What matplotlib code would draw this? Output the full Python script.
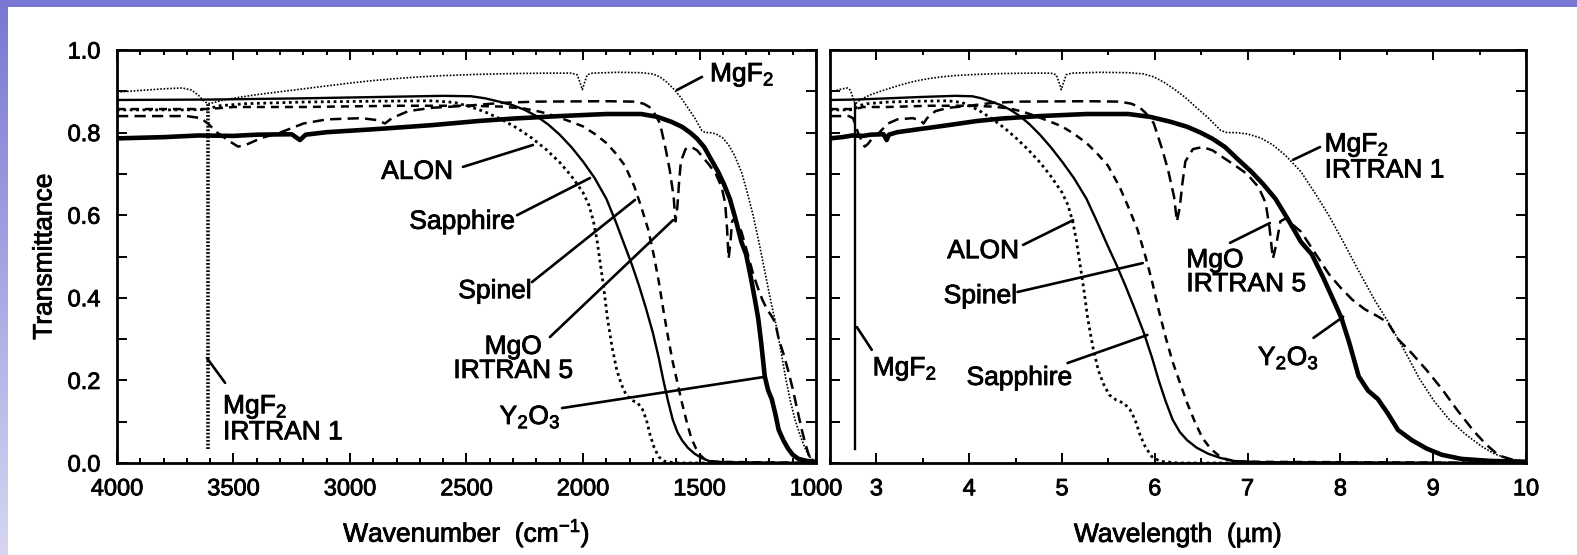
import numpy as np
import matplotlib
matplotlib.use('Agg')
import matplotlib.pyplot as plt
import matplotlib.patheffects as pe
from matplotlib.patches import Rectangle
from matplotlib.ticker import MultipleLocator, FormatStrFormatter

plt.rcParams['font.family'] = ['Liberation Sans', 'DejaVu Sans']
plt.rcParams['mathtext.fontset'] = 'custom'
plt.rcParams['mathtext.rm'] = 'Liberation Sans'
plt.rcParams['mathtext.default'] = 'regular'

# transmittance curves: (wavenumber cm-1, transmittance)
MGF2 = [(4000, 0.898), (3900, 0.902), (3800, 0.906), (3720, 0.908), (3680, 0.903),
        (3650, 0.89), (3630, 0.878), (3610, 0.87), (3590, 0.872), (3550, 0.878),
        (3480, 0.885), (3400, 0.892), (3300, 0.899), (3200, 0.906), (3100, 0.913),
        (3000, 0.92), (2900, 0.926), (2800, 0.931), (2700, 0.935), (2600, 0.938),
        (2450, 0.941), (2300, 0.943), (2150, 0.944), (2050, 0.944), (2025, 0.94),
        (2012, 0.92), (2003, 0.904), (1994, 0.92), (1982, 0.94), (1960, 0.944),
        (1850, 0.946), (1750, 0.945), (1700, 0.942), (1670, 0.935), (1640, 0.922),
        (1610, 0.905), (1580, 0.885), (1550, 0.86), (1520, 0.835), (1500, 0.815),
        (1490, 0.805), (1475, 0.80), (1455, 0.80), (1430, 0.797), (1400, 0.787),
        (1375, 0.77), (1350, 0.745), (1320, 0.705), (1295, 0.655), (1270, 0.60),
        (1245, 0.535), (1220, 0.465), (1195, 0.395), (1170, 0.33), (1150, 0.27),
        (1130, 0.205), (1110, 0.15), (1090, 0.105), (1070, 0.07), (1050, 0.04),
        (1035, 0.022), (1020, 0.01), (1000, 0.005)]

ALON = [(4000, 0.855), (3700, 0.855), (3620, 0.856), (3560, 0.865), (3450, 0.87),
        (3200, 0.874), (2900, 0.876), (2650, 0.877), (2550, 0.873), (2480, 0.862),
        (2420, 0.85), (2350, 0.832), (2280, 0.81), (2220, 0.787), (2160, 0.76),
        (2100, 0.728), (2050, 0.695), (2000, 0.655), (1975, 0.625), (1955, 0.585),
        (1940, 0.54), (1925, 0.48), (1910, 0.42), (1895, 0.35), (1875, 0.28),
        (1855, 0.225), (1835, 0.19), (1815, 0.165), (1790, 0.152), (1765, 0.145),
        (1745, 0.13), (1728, 0.105), (1712, 0.068), (1695, 0.038), (1675, 0.015),
        (1650, 0.004), (1600, 0.0), (1000, 0.0)]

SAPPHIRE = [(4000, 0.879), (3600, 0.88), (3200, 0.883), (2900, 0.886), (2600, 0.889),
            (2480, 0.888), (2420, 0.883), (2360, 0.875), (2300, 0.866), (2250, 0.855),
            (2200, 0.84), (2150, 0.82), (2100, 0.795), (2050, 0.765), (2000, 0.73),
            (1950, 0.69), (1900, 0.64), (1860, 0.585), (1820, 0.525), (1790, 0.48),
            (1760, 0.43), (1730, 0.375), (1700, 0.315), (1675, 0.255), (1655, 0.2),
            (1635, 0.15), (1615, 0.105), (1595, 0.075), (1575, 0.055), (1550, 0.037),
            (1520, 0.022), (1490, 0.012), (1460, 0.005), (1400, 0.002), (1000, 0.0)]

SPINEL = [(4000, 0.857), (3700, 0.857), (3610, 0.857), (3500, 0.862), (3200, 0.862),
          (2800, 0.865), (2500, 0.865), (2350, 0.863), (2250, 0.858), (2180, 0.85),
          (2120, 0.84), (2050, 0.826), (2000, 0.815), (1950, 0.797), (1900, 0.775),
          (1860, 0.75), (1820, 0.72), (1780, 0.67), (1750, 0.62), (1720, 0.565),
          (1695, 0.5), (1675, 0.44), (1655, 0.37), (1635, 0.305), (1615, 0.245),
          (1595, 0.195), (1575, 0.145), (1555, 0.1), (1535, 0.06), (1515, 0.035),
          (1495, 0.018), (1475, 0.008), (1440, 0.003), (1000, 0.0)]

MGO = [(4000, 0.84), (3700, 0.84), (3640, 0.835), (3610, 0.822), (3570, 0.80),
       (3520, 0.78), (3480, 0.766), (3440, 0.772), (3380, 0.787), (3300, 0.80),
       (3200, 0.822), (3100, 0.832), (2950, 0.835), (2880, 0.83), (2850, 0.822),
       (2820, 0.835), (2750, 0.852), (2650, 0.86), (2500, 0.865), (2350, 0.872),
       (2200, 0.875), (1900, 0.876), (1780, 0.875), (1740, 0.87), (1715, 0.862),
       (1695, 0.848), (1670, 0.823), (1645, 0.76), (1628, 0.71), (1611, 0.645),
       (1603, 0.585), (1595, 0.62), (1588, 0.677), (1580, 0.73), (1560, 0.76),
       (1535, 0.765), (1510, 0.757), (1485, 0.74), (1460, 0.723), (1430, 0.70),
       (1405, 0.668), (1390, 0.63), (1382, 0.57), (1375, 0.495), (1368, 0.53),
       (1360, 0.585), (1350, 0.592), (1320, 0.56), (1295, 0.51), (1270, 0.458),
       (1250, 0.425), (1230, 0.395), (1210, 0.372), (1190, 0.355), (1175, 0.34),
       (1160, 0.30), (1140, 0.265), (1120, 0.225), (1100, 0.18), (1080, 0.128),
       (1060, 0.078), (1045, 0.045), (1030, 0.018), (1010, 0.005), (1000, 0.003)]

Y2O3 = [(4000, 0.786), (3800, 0.789), (3650, 0.793), (3500, 0.792), (3400, 0.795),
        (3250, 0.796), (3215, 0.782), (3190, 0.795), (3100, 0.801), (2900, 0.808),
        (2650, 0.818), (2450, 0.828), (2300, 0.834), (2100, 0.84), (1900, 0.845),
        (1750, 0.845), (1680, 0.838), (1620, 0.826), (1575, 0.814), (1540, 0.80),
        (1510, 0.785), (1480, 0.765), (1450, 0.735), (1420, 0.705), (1395, 0.675),
        (1370, 0.64), (1345, 0.59), (1320, 0.535), (1300, 0.505), (1280, 0.45),
        (1262, 0.395), (1248, 0.35), (1235, 0.29), (1220, 0.21), (1205, 0.175),
        (1190, 0.155), (1175, 0.12), (1160, 0.08), (1140, 0.055), (1120, 0.035),
        (1100, 0.02), (1075, 0.01), (1040, 0.005), (1000, 0.003)]

# MgF2 / IRTRAN 1 cut-off edge (vertical drop)
MGF2_EDGE = [(3610, 0.035), (3610, 0.87)]

curves = [
    (MGF2, dict(lw=1.2, ls=(0, (1, 1)))),
    (ALON, dict(lw=2.0, ls=(0, (1, 1.3)))),
    (SAPPHIRE, dict(lw=1.7, ls='-')),
    (SPINEL, dict(lw=1.8, ls=(0, (3.2, 2.4)))),
    (MGO, dict(lw=1.8, ls=(0, (4.5, 2.5)))),
    (Y2O3, dict(lw=3.3, ls='-')),
]

# label text, text pos, ha, leader start, leader end
left_labels = [
    ('MgF$_2$', (1455, 0.94), 'left', (1489, 0.935), (1597, 0.903)),
    ('ALON', (2712, 0.705), 'center', (2515, 0.717), (2215, 0.77)),
    ('Sapphire', (2519, 0.584), 'center', (2283, 0.60), (1970, 0.69)),
    ('Spinel', (2378, 0.416), 'center', (2219, 0.438), (1777, 0.637)),
    ('MgO\nIRTRAN 5', (2300, 0.252), 'center', (2142, 0.305), (1614, 0.588)),
    ('Y$_2$O$_3$', (2227, 0.111), 'center', (2090, 0.133), (1227, 0.208)),
    ('MgF$_2$\nIRTRAN 1', (3545, 0.107), 'left', (3536, 0.194), (3614, 0.254)),
]
right_labels = [
    ('MgF$_2$\nIRTRAN 1', (7.83, 0.741), 'left', (7.78, 0.765), (7.49, 0.734)),
    ('MgO\nIRTRAN 5', (6.34, 0.462), 'left', (6.81, 0.533), (7.24, 0.581)),
    ('Y$_2$O$_3$', (7.44, 0.254), 'center', (7.71, 0.303), (8.03, 0.354)),
    ('ALON', (4.15, 0.513), 'center', (4.58, 0.528), (5.12, 0.588)),
    ('Spinel', (4.12, 0.404), 'center', (4.52, 0.414), (5.87, 0.484)),
    ('Sapphire', (4.54, 0.206), 'center', (5.06, 0.242), (5.92, 0.31)),
    ('MgF$_2$', (2.96, 0.228), 'left', (2.95, 0.274), (2.79, 0.329)),
]

heavy = [pe.withStroke(linewidth=0.6, foreground='k')]


def split(pts):
    nu = np.array([p[0] for p in pts], dtype=float)
    t = np.array([p[1] for p in pts], dtype=float)
    return nu, t


def draw(ax, to_x, edge_style, labels):
    for pts, st in curves:
        nu, t = split(pts)
        ax.plot(to_x(nu), t, color='k', **st)
    nu, t = split(MGF2_EDGE)
    ax.plot(to_x(nu), t, color='k', **edge_style)
    for text, pos, ha, start, end in labels:
        ax.text(pos[0], pos[1], text, ha=ha, va='center', fontsize=19,
                multialignment=ha, linespacing=1.0, path_effects=heavy)
        ax.annotate('', xy=end, xytext=start,
                    arrowprops=dict(arrowstyle='-', lw=1.9, color='k',
                                    shrinkA=0, shrinkB=0))


def style(ax):
    ax.set_ylim(0, 1)
    ax.yaxis.set_major_locator(MultipleLocator(0.2))
    ax.yaxis.set_minor_locator(MultipleLocator(0.1))
    ax.yaxis.set_major_formatter(FormatStrFormatter('%.1f'))
    ax.tick_params(which='both', direction='in', top=True, right=True,
                   width=1.4, labelsize=17)
    ax.tick_params(axis='x', which='major', length=7, pad=11)
    ax.tick_params(axis='x', which='minor', length=3.6)
    ax.tick_params(axis='y', which='both', length=7, pad=12)
    for sp in ax.spines.values():
        sp.set_linewidth(2)
    for lab in ax.get_xticklabels() + ax.get_yticklabels():
        lab.set_path_effects(heavy)


def xlabel(ax, text):
    ax.set_xlabel(text, fontsize=19, path_effects=heavy)
    ax.xaxis.label.set_va('baseline')
    ax.xaxis.set_label_coords(0.5, -0.191)


fig = plt.figure(figsize=(15.77, 5.55), dpi=100)

# slide frame: top bar and left gradient bar
grad = np.linspace(0, 1, 200)[:, None, None]
top_c = np.array([0.47, 0.47, 0.83])
bot_c = np.array([0.84, 0.84, 0.95])
band = fig.add_axes([0, 0, 8 / 1577, 1])
band.imshow(top_c * (1 - grad) + bot_c * grad, aspect='auto', extent=[0, 1, 0, 1])
band.axis('off')
fig.patches.append(Rectangle((0, 1 - 7 / 555), 1, 7 / 555, transform=fig.transFigure,
                             facecolor=top_c, edgecolor='none'))

ax1 = fig.add_axes([117 / 1577, 92 / 555, 699 / 1577, 413 / 555])
ax2 = fig.add_axes([830 / 1577, 92 / 555, 696 / 1577, 413 / 555])

draw(ax1, lambda nu: nu, dict(lw=2.6, ls=(0, (0.5, 0.5))), left_labels)
ax1.set_xlim(4000, 1000)
ax1.xaxis.set_major_locator(MultipleLocator(500))
ax1.xaxis.set_minor_locator(MultipleLocator(100))
style(ax1)
xlabel(ax1, 'Wavenumber  (cm$^{-1}$)')
ax1.set_ylabel('Transmittance', fontsize=19, labelpad=8, path_effects=heavy)

draw(ax2, lambda nu: 1e4 / nu, dict(lw=1.7, ls='-'), right_labels)
ax2.set_xlim(2.5, 10)
ax2.xaxis.set_major_locator(MultipleLocator(1))
ax2.xaxis.set_minor_locator(MultipleLocator(0.5))
style(ax2)
ax2.tick_params(labelleft=False)
xlabel(ax2, 'Wavelength  (\u00b5m)')

fig.savefig('out.png', dpi=100)
